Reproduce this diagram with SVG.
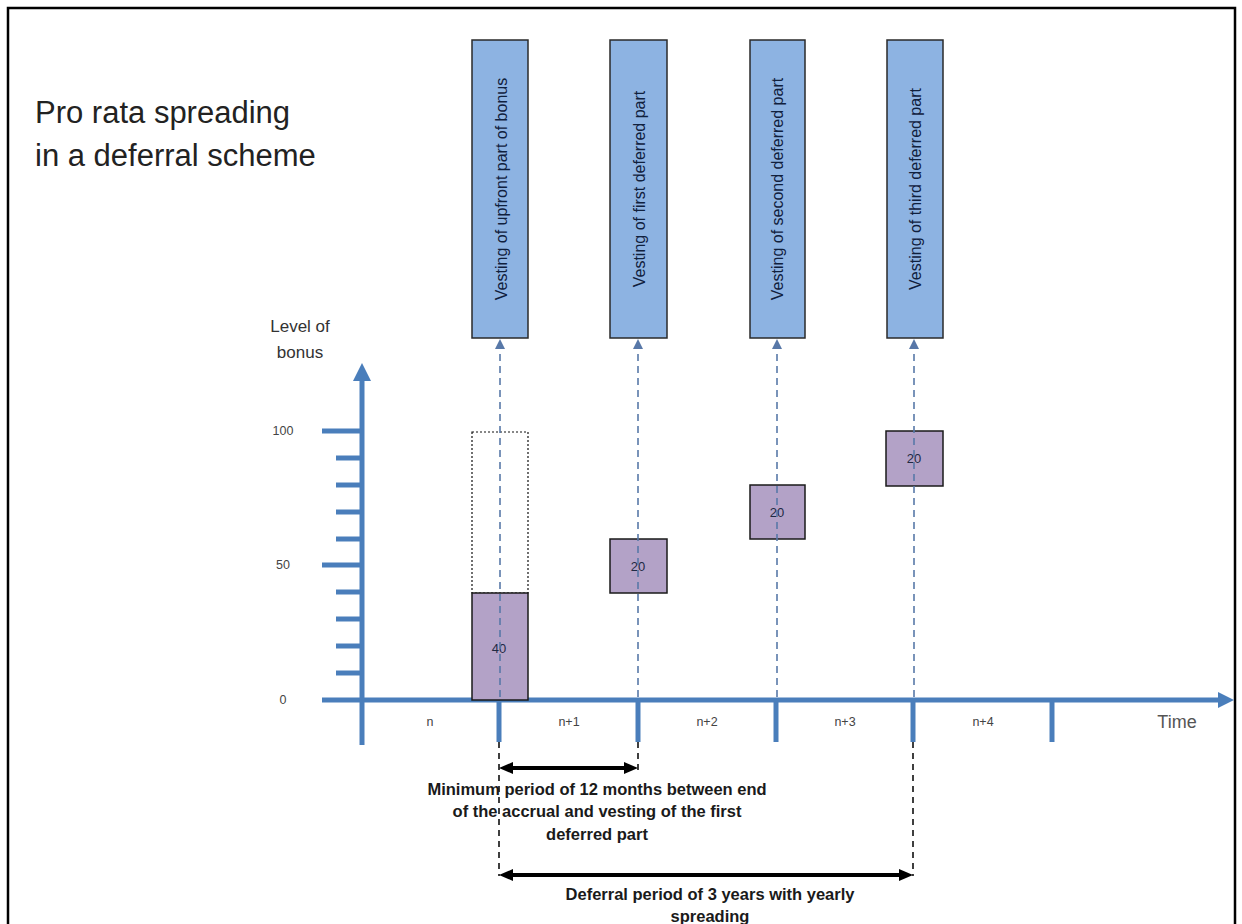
<svg xmlns="http://www.w3.org/2000/svg" width="1242" height="924" viewBox="0 0 1242 924">
<defs>
<style>
.frame{fill:none;stroke:#000;stroke-width:2.5}
.title{font-family:"Liberation Sans",Arial,sans-serif;font-size:31px;fill:#222}
.axis{stroke:#4A7EBB;stroke-width:5;fill:none}
.axhead{fill:#4A7EBB}
.tick{stroke:#4A7EBB;stroke-width:5}
.vest{fill:#8DB3E2;stroke:#2a2a2a;stroke-width:1.5}
.vtxt{font-family:"Liberation Sans",Arial,sans-serif;font-size:16px;fill:#10203d;text-anchor:middle;dominant-baseline:central}
.part{fill:#B3A2C7;stroke:#1a1a1a;stroke-width:1.5}
.dotted{fill:none;stroke:#111;stroke-width:1.2;stroke-dasharray:2 2}
.ptxt{font-family:"Liberation Sans",Arial,sans-serif;font-size:13px;fill:#1f2a44;text-anchor:middle;dominant-baseline:central}
.small{font-family:"Liberation Sans",Arial,sans-serif;font-size:12.5px;fill:#444;text-anchor:middle}
.lbl{font-family:"Liberation Sans",Arial,sans-serif;font-size:17px;fill:#333;text-anchor:middle}
.time{font-family:"Liberation Sans",Arial,sans-serif;font-size:18px;fill:#555;text-anchor:middle}
.dash{stroke:#5878A8;stroke-width:2;stroke-dasharray:7 5;stroke-opacity:0.8;fill:none}
.bdash{stroke:#000;stroke-width:1.5;stroke-dasharray:6 5;fill:none}
.dbl{stroke:#000;stroke-width:4;fill:none}
.note{font-family:"Liberation Sans",Arial,sans-serif;font-size:16.5px;font-weight:bold;fill:#1a1a1a;text-anchor:middle}
</style>
<marker id="up" viewBox="0 0 10 10" refX="9" refY="5" markerWidth="10" markerHeight="10" markerUnits="userSpaceOnUse" orient="auto">
<path d="M0,0 L10,5 L0,10 Z" fill="#5878A8"/>
</marker>
<marker id="blk" viewBox="0 0 14 14" refX="6" refY="7" markerWidth="14" markerHeight="14" markerUnits="userSpaceOnUse" orient="auto-start-reverse">
<path d="M0,1 L14,7 L0,13 Z" fill="#000"/>
</marker>
</defs>
<rect width="1242" height="924" fill="#fff"/>
<rect class="frame" x="8" y="8" width="1227" height="940"/>

<g id="title">
<text class="title" x="35" y="123">Pro rata spreading</text>
<text class="title" x="35" y="166">in a deferral scheme</text>
</g>

<g id="y-axis">
<line class="axis" x1="362" y1="745" x2="362" y2="378"/>
<polygon class="axhead" points="353,381 362,363 371,381"/>
<line class="tick" x1="322" y1="431" x2="362" y2="431"/>
<line class="tick" x1="336" y1="458" x2="362" y2="458"/>
<line class="tick" x1="336" y1="485" x2="362" y2="485"/>
<line class="tick" x1="336" y1="512" x2="362" y2="512"/>
<line class="tick" x1="336" y1="539" x2="362" y2="539"/>
<line class="tick" x1="322" y1="565" x2="362" y2="565"/>
<line class="tick" x1="336" y1="592" x2="362" y2="592"/>
<line class="tick" x1="336" y1="619" x2="362" y2="619"/>
<line class="tick" x1="336" y1="646" x2="362" y2="646"/>
<line class="tick" x1="336" y1="673" x2="362" y2="673"/>
<text class="small" x="283" y="435">100</text>
<text class="small" x="283" y="569">50</text>
<text class="small" x="283" y="704">0</text>
<text class="lbl" x="300" y="332">Level of</text>
<text class="lbl" x="300" y="358">bonus</text>
</g>

<g id="time-axis">
<line class="axis" x1="322" y1="700" x2="1220" y2="700"/>
<polygon class="axhead" points="1218,692 1234,700 1218,708"/>
<line class="tick" x1="499" y1="700" x2="499" y2="742"/>
<line class="tick" x1="638" y1="700" x2="638" y2="742"/>
<line class="tick" x1="776" y1="700" x2="776" y2="742"/>
<line class="tick" x1="913" y1="700" x2="913" y2="742"/>
<line class="tick" x1="1052" y1="700" x2="1052" y2="742"/>
<text class="small" x="430" y="726">n</text>
<text class="small" x="569" y="726">n+1</text>
<text class="small" x="707" y="726">n+2</text>
<text class="small" x="845" y="726">n+3</text>
<text class="small" x="983" y="726">n+4</text>
<text class="time" x="1177" y="728">Time</text>
</g>

<g id="vest-upfront">
<rect class="vest" x="472" y="40" width="56" height="298"/>
<text class="vtxt" transform="translate(501,189) rotate(-90)">Vesting of upfront part of bonus</text>
</g>
<g id="vest-first">
<rect class="vest" x="610" y="40" width="57" height="298"/>
<text class="vtxt" transform="translate(639,189) rotate(-90)">Vesting of first deferred part</text>
</g>
<g id="vest-second">
<rect class="vest" x="750" y="40" width="55" height="298"/>
<text class="vtxt" transform="translate(777,189) rotate(-90)">Vesting of second deferred part</text>
</g>
<g id="vest-third">
<rect class="vest" x="887" y="40" width="56" height="298"/>
<text class="vtxt" transform="translate(915,189) rotate(-90)">Vesting of third deferred part</text>
</g>

<g id="bonus-total">
<rect class="dotted" x="472" y="432" width="56" height="161"/>
</g>
<g id="part-upfront">
<rect class="part" x="472" y="593" width="56" height="107"/>
<text class="ptxt" x="499" y="648">40</text>
</g>
<g id="part-first">
<rect class="part" x="610" y="539" width="57" height="54"/>
<text class="ptxt" x="638" y="566">20</text>
</g>
<g id="part-second">
<rect class="part" x="750" y="485" width="55" height="54"/>
<text class="ptxt" x="777" y="512">20</text>
</g>
<g id="part-third">
<rect class="part" x="886" y="431" width="57" height="55"/>
<text class="ptxt" x="914" y="458">20</text>
</g>

<g id="connectors">
<line class="dash" x1="500" y1="697" x2="500" y2="340" marker-end="url(#up)"/>
<line class="dash" x1="638" y1="697" x2="638" y2="340" marker-end="url(#up)"/>
<line class="dash" x1="777" y1="697" x2="777" y2="340" marker-end="url(#up)"/>
<line class="dash" x1="914" y1="697" x2="914" y2="340" marker-end="url(#up)"/>
<line class="bdash" x1="499" y1="742" x2="499" y2="876"/>
<line class="bdash" x1="638" y1="742" x2="638" y2="770"/>
<line class="bdash" x1="913" y1="742" x2="913" y2="876"/>
<line class="dbl" x1="507" y1="768" x2="630" y2="768" marker-start="url(#blk)" marker-end="url(#blk)"/>
<line class="dbl" x1="507" y1="875" x2="905" y2="875" marker-start="url(#blk)" marker-end="url(#blk)"/>
</g>

<g id="note-minimum">
<text class="note" x="597" y="795">Minimum period of 12 months between end</text>
<text class="note" x="597" y="817">of the accrual and vesting of the first</text>
<text class="note" x="597" y="840">deferred part</text>
</g>
<g id="note-deferral">
<text class="note" x="710" y="900">Deferral period of 3 years with yearly</text>
<text class="note" x="710" y="922">spreading</text>
</g>
</svg>
